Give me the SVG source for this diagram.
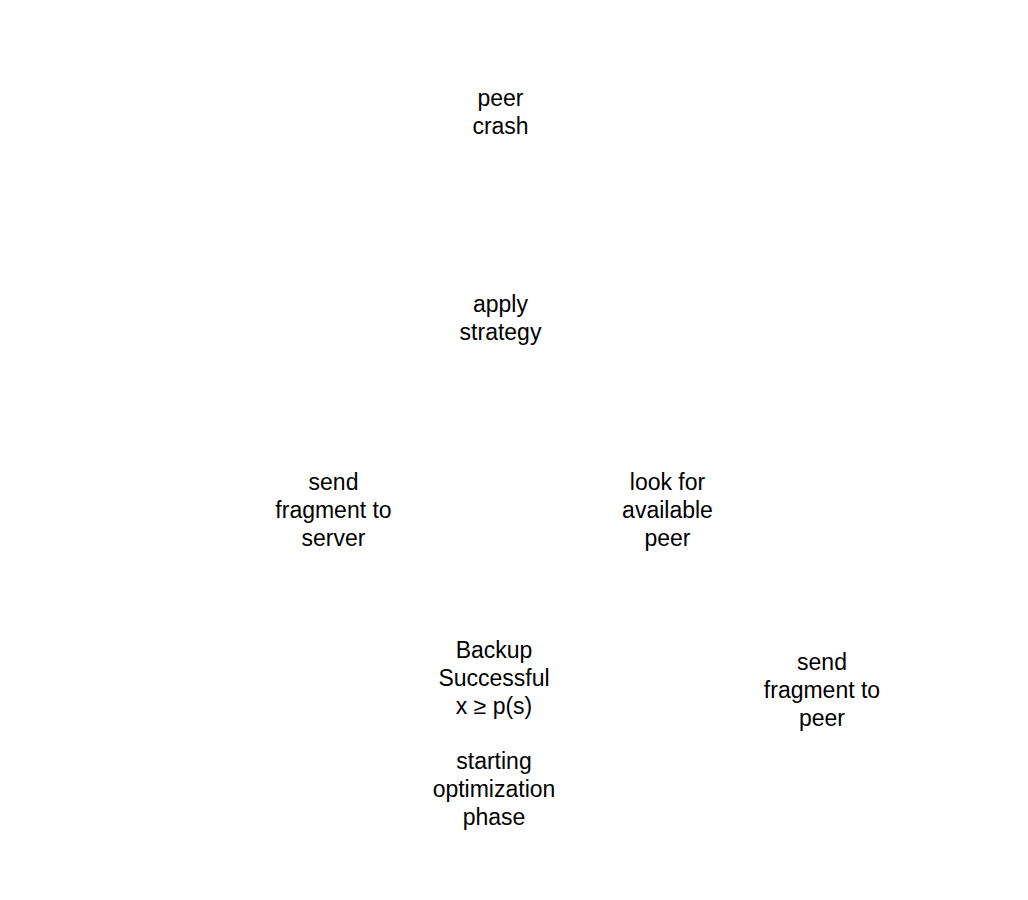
<svg xmlns="http://www.w3.org/2000/svg" width="1028" height="900" viewBox="0 0 1028 900">
<style>
text{font-family:"Liberation Sans",Arial,sans-serif;font-size:23px;fill:#000;text-anchor:middle}
</style>
<rect width="1028" height="900" fill="#fff"/>
<g id="connectors"></g>
<g id="peer-crash"><text x="500.5" y="106">peer</text><text x="500.5" y="134">crash</text></g>
<g id="apply-strategy"><text x="500.5" y="312">apply</text><text x="500.5" y="340">strategy</text></g>
<g id="send-server"><text x="333.5" y="490">send</text><text x="333.5" y="518">fragment to</text><text x="333.5" y="546">server</text></g>
<g id="look-peer"><text x="667.5" y="490">look for</text><text x="667.5" y="518">available</text><text x="667.5" y="546">peer</text></g>
<g id="backup"><text x="494" y="658">Backup</text><text x="494" y="686">Successful</text><text x="494" y="714">x ≥ p(s)</text><text x="494" y="769">starting</text><text x="494" y="797">optimization</text><text x="494" y="825">phase</text></g>
<g id="send-peer"><text x="822" y="670">send</text><text x="822" y="698">fragment to</text><text x="822" y="726">peer</text></g>
</svg>
